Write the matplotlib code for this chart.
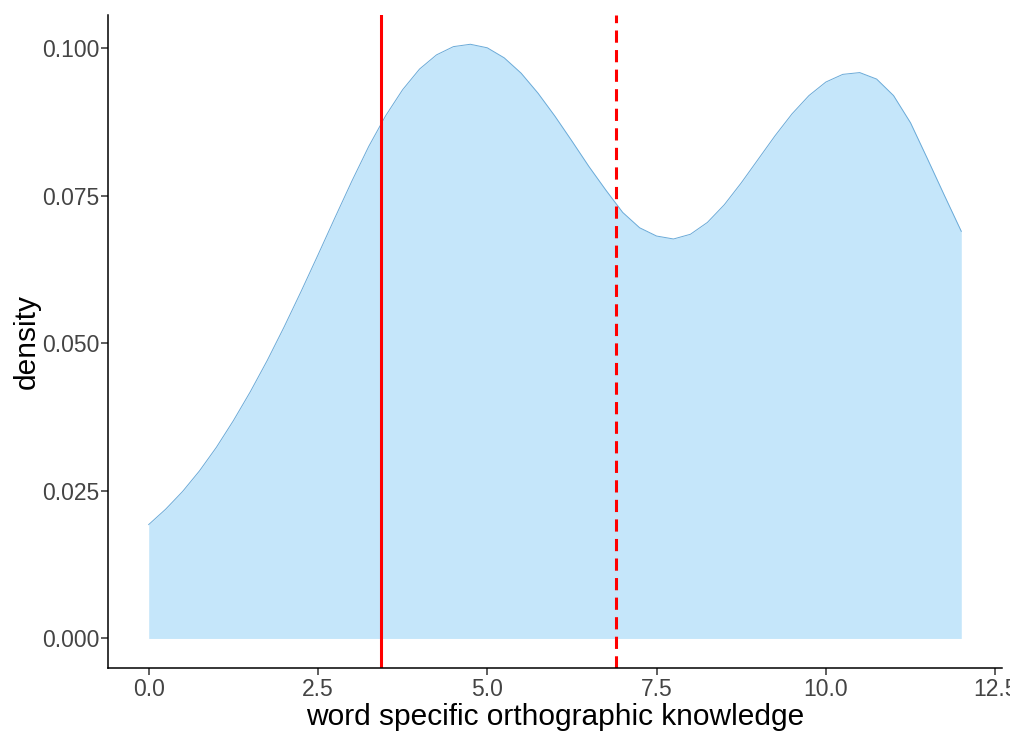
import numpy as np
import matplotlib
matplotlib.use("Agg")
import matplotlib.pyplot as plt

plt.rcParams['font.family'] = ['Liberation Sans', 'DejaVu Sans']

# Kernel density estimate of word specific orthographic knowledge scores
score = [0.00, 0.25, 0.50, 0.75, 1.00, 1.25, 1.50, 1.75, 2.00, 2.25, 2.50, 2.75,
         3.00, 3.25, 3.50, 3.75, 4.00, 4.25, 4.50, 4.75, 5.00, 5.25, 5.50, 5.75,
         6.00, 6.25, 6.50, 6.75, 7.00, 7.25, 7.50, 7.75, 8.00, 8.25, 8.50, 8.75,
         9.00, 9.25, 9.50, 9.75, 10.00, 10.25, 10.50, 10.75, 11.00, 11.25, 11.50,
         11.75, 12.00]
density = [0.0193, 0.0219, 0.0249, 0.0284, 0.0324, 0.0369, 0.0418, 0.0471, 0.0528,
           0.0588, 0.0650, 0.0713, 0.0775, 0.0834, 0.0886, 0.0930, 0.0965, 0.0989,
           0.1003, 0.1007, 0.1001, 0.0984, 0.0958, 0.0924, 0.0885, 0.0843, 0.0800,
           0.0760, 0.0722, 0.0696, 0.0682, 0.0677, 0.0685, 0.0705, 0.0735, 0.0772,
           0.0812, 0.0852, 0.0889, 0.0920, 0.0943, 0.0956, 0.0959, 0.0948, 0.0920,
           0.0874, 0.0813, 0.0751, 0.0690]

median_score = 3.43
mean_score = 6.90

x_ticks = [0.0, 2.5, 5.0, 7.5, 10.0, 12.5]
x_tick_labels = ["0.0", "2.5", "5.0", "7.5", "10.0", "12.5"]
y_ticks = [0.000, 0.025, 0.050, 0.075, 0.100]
y_tick_labels = ["0.000", "0.025", "0.050", "0.075", "0.100"]

fig = plt.figure(figsize=(10.10, 7.31), dpi=100)
ax = fig.add_axes([0.107, 0.086, 0.885, 0.893])

ax.fill_between(score, 0, density, color="#c5e6fa", linewidth=0)
ax.plot(score, density, color="#6aaad8", linewidth=0.7,
        solid_joinstyle="round")

ax.axvline(median_score, color="#ff0000", linewidth=2.2)
ax.axvline(mean_score, color="#ff0000", linewidth=2.2, linestyle=(0, (4, 2.4)))

ax.set_xlim(-0.6, 12.6)
ax.set_ylim(-0.00503, 0.1056)

ax.set_xticks(x_ticks)
ax.set_xticklabels(x_tick_labels)
ax.set_yticks(y_ticks)
ax.set_yticklabels(y_tick_labels)

for side in ("top", "right"):
    ax.spines[side].set_visible(False)
for side in ("left", "bottom"):
    ax.spines[side].set_linewidth(1.1)
    ax.spines[side].set_color("black")

ax.tick_params(axis="both", length=5, width=1.1, color="#333333",
               labelsize=16.5, labelcolor="#444444")
ax.tick_params(axis="y", pad=1)
ax.tick_params(axis="x", pad=2)

ax.set_xlabel("word specific orthographic knowledge", fontsize=21.5,
              color="black", va="baseline")
ax.xaxis.set_label_coords(0.5, -0.0873)
ax.set_ylabel("density", fontsize=21.5, color="black", va="baseline")
ax.yaxis.set_label_coords(-0.0817, 0.5)

fig.savefig("out.png", dpi=100)
